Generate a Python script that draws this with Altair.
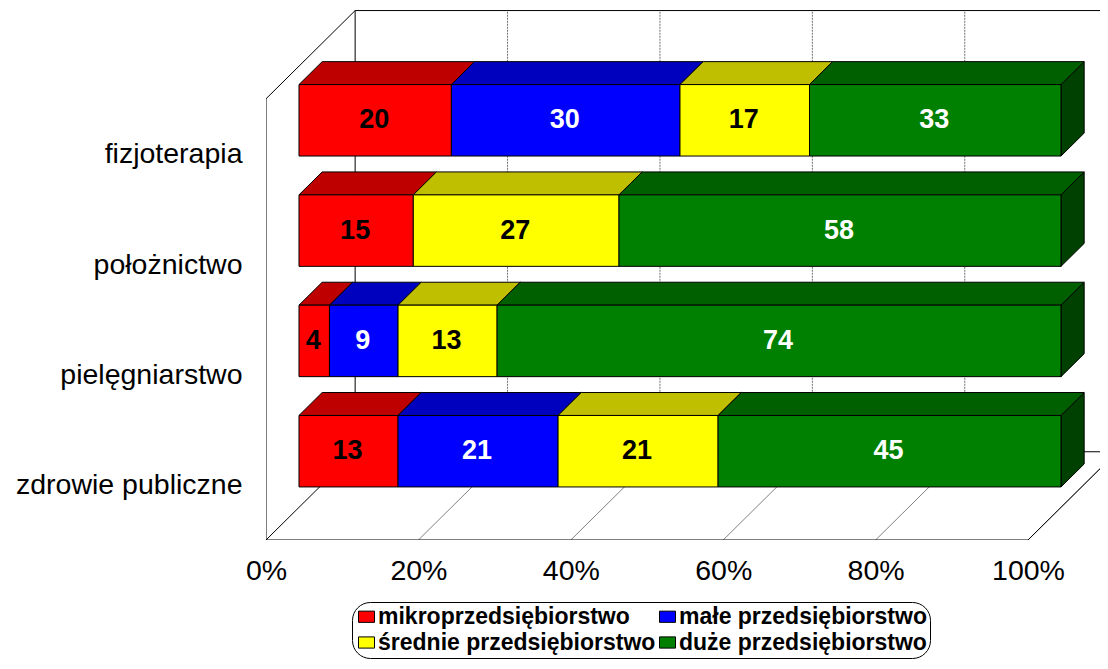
import json
import altair as alt
import pandas as pd

# rows from the front of the chart (bottom) to the back (top)
categories = ["zdrowie publiczne", "pielęgniarstwo", "położnictwo", "fizjoterapia"]
series = ["mikroprzedsiębiorstwo", "małe przedsiębiorstwo", "średnie przedsiębiorstwo", "duże przedsiębiorstwo"]
mikro = [13, 4, 15, 20]
male = [21, 9, 0, 30]
srednie = [21, 13, 27, 17]
duze = [45, 74, 58, 33]
ticks = [0, 20, 40, 60, 80, 100]

front_colors = ["#FF0000", "#0000FF", "#FFFF00", "#008000"]
top_colors = ["#BF0000", "#0000BF", "#BFBF00", "#006000"]
label_colors = ["#000000", "#FFFFFF", "#000000", "#FFFFFF"]
side_color = "#004000"

# oblique projection: how far the chart's depth shifts a point
DX, DY = 11.7, 0.8
BAR_T0, BAR_T1 = 0.37, 0.63
BAR_BOTTOM, BAR_H = 0.185, 0.648
FONT = "Liberation Sans"


def px(pct, t):
    return pct + DX * t


def py(level, t):
    return level + DY * t


front, top, side, labels = [], [], [], []
for r, cat in enumerate(categories):
    base = 0
    vals = [mikro[r], male[r], srednie[r], duze[r]]
    y0, y1 = r + BAR_BOTTOM, r + BAR_BOTTOM + BAR_H
    for s, v in enumerate(vals):
        if v == 0:
            continue
        a, b = base, base + v
        base = b
        front.append({"x": px(a, BAR_T0), "x2": px(b, BAR_T0),
                      "y": py(y0, BAR_T0), "y2": py(y1, BAR_T0), "series": series[s]})
        labels.append({"x": px((a + b) / 2, BAR_T0), "y": py((y0 + y1) / 2, BAR_T0),
                       "v": v, "c": label_colors[s]})
        for t in (BAR_T0, BAR_T1):
            top.append({"id": f"{r}-{s}", "y": py(y1, t), "x": px(a, t), "x2": px(b, t), "f": top_colors[s]})
    for t in (BAR_T0, BAR_T1):
        side.append({"id": str(r), "x": px(100, t), "y": py(y0, t), "y2": py(y1, t), "f": side_color})

W, F = 1, 4
segs, wall = [], []
def seg(p0, t0, l0, p1, t1, l1, color, into=segs):
    into.append({"x": px(p0, t0), "y": py(l0, t0), "x2": px(p1, t1), "y2": py(l1, t1), "c": color})

for k in ticks[1:]:
    seg(k, W, 0, k, W, F, "#707070", wall)
    seg(k, 0, 0, k, 1, 0, "#808080")
seg(0, 0, 0, 0, 0, F, "#000000")
seg(0, 0, F, 0, 1, F, "#000000")
seg(0, 0, 0, 0, 1, 0, "#000000")
seg(0, 1, 0, 0, 1, F, "#000000")
seg(0, 1, F, 100, 1, F, "#000000")
seg(0, 0, 0, 100, 0, 0, "#000000")
seg(0, 1, 0, 100, 1, 0, "#000000")
seg(100, 0, 0, 100, 1, 0, "#000000")

PLOT_W, PLOT_H = 834, 530
xs = alt.Scale(domain=[0, PLOT_W / 7.62], nice=False, zero=False)
ys = alt.Scale(domain=[0, PLOT_H / 110.3], nice=False, zero=False)
label_js = json.dumps(categories, ensure_ascii=False)

x_axis = alt.Axis(values=ticks, labelExpr="datum.value + '%'", domain=False, ticks=False, grid=False,
                  title=None, labelFont=FONT, labelFontSize=28.5, labelColor="#000000",
                  labelPadding=16, labelFlush=False, labelOverlap=False)
y_axis = alt.Axis(values=[i + 0.5 for i in range(len(categories))],
                  labelExpr=f"{label_js}[round(datum.value - 0.5)]",
                  domain=False, ticks=False, grid=False, title=None, labelFont=FONT,
                  labelFontSize=28.5, labelColor="#000000", labelPadding=24, labelLimit=300,
                  labelOverlap=False)

wall_l = alt.Chart(pd.DataFrame(wall)).mark_rule(strokeWidth=1, strokeDash=[2, 1], clip=True).encode(
    x=alt.X("x:Q", scale=xs, axis=x_axis),
    y=alt.Y("y:Q", scale=ys, axis=y_axis),
    x2="x2:Q", y2="y2:Q",
    stroke=alt.Stroke("c:N", scale=None),
)
frame = alt.Chart(pd.DataFrame(segs)).mark_rule(strokeWidth=1, clip=True).encode(
    x=alt.X("x:Q", scale=xs, axis=x_axis),
    y=alt.Y("y:Q", scale=ys, axis=y_axis),
    x2="x2:Q", y2="y2:Q",
    stroke=alt.Stroke("c:N", scale=None),
)
side_l = alt.Chart(pd.DataFrame(side)).mark_area(orient="vertical", stroke="#000000", strokeWidth=1).encode(
    x=alt.X("x:Q", scale=xs, axis=x_axis),
    y=alt.Y("y:Q", scale=ys, axis=y_axis, stack=None), y2="y2:Q",
    detail="id:N", fill=alt.Fill("f:N", scale=None),
)
top_l = alt.Chart(pd.DataFrame(top)).mark_area(orient="horizontal", stroke="#000000", strokeWidth=1).encode(
    y=alt.Y("y:Q", scale=ys, axis=y_axis),
    x=alt.X("x:Q", scale=xs, axis=x_axis, stack=None), x2="x2:Q",
    detail="id:N", fill=alt.Fill("f:N", scale=None),
)
front_l = alt.Chart(pd.DataFrame(front)).mark_rect(stroke="#000000", strokeWidth=1).encode(
    x=alt.X("x:Q", scale=xs, axis=x_axis), x2="x2:Q",
    y=alt.Y("y:Q", scale=ys, axis=y_axis), y2="y2:Q",
    color=alt.Color("series:N", scale=alt.Scale(domain=series, range=front_colors), legend=alt.Legend(
        title=None, orient="none", direction="horizontal", legendX=86, legendY=592, columns=2,
        fillColor="#FFFFFF", strokeColor="#000000", cornerRadius=18, padding=3, labelFont=FONT,
        labelFontWeight="bold", labelFontSize=23, labelLimit=340, labelColor="#000000",
        labelExpr="datum.label + '\u00a0\u00a0\u00a0\u00a0'",
        symbolType="M-1,-0.7H1V0.7H-1Z", symbolSize=256,
        symbolStrokeColor="#000000", symbolStrokeWidth=1, symbolOpacity=1, columnPadding=-26, rowPadding=2,
        labelOffset=0,
    )),
)
text_l = alt.Chart(pd.DataFrame(labels)).mark_text(font=FONT, fontWeight="bold", fontSize=27, baseline="middle", align="center", dx=-1).encode(
    x=alt.X("x:Q", scale=xs, axis=x_axis),
    y=alt.Y("y:Q", scale=ys, axis=y_axis),
    text="v:Q", color=alt.Color("c:N", scale=None),
)

chart = alt.layer(wall_l, frame, side_l, top_l, front_l, text_l).resolve_scale(color="independent").properties(
    width=PLOT_W, height=PLOT_H,
    autosize=alt.AutoSizeParams(type="none"),
    padding={"left": 258, "top": 2, "right": 0, "bottom": 121},
).configure_view(stroke=None)

chart.save("out.html", embed_options={"renderer": "svg", "actions": False})
